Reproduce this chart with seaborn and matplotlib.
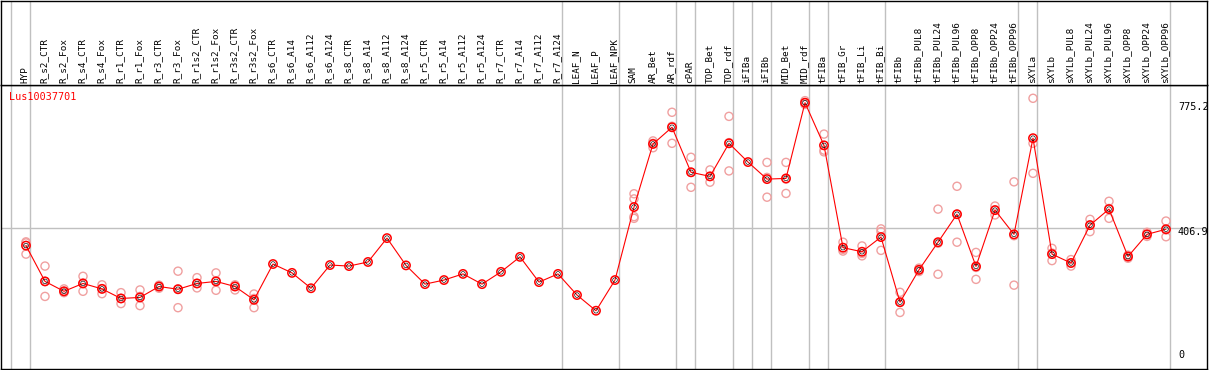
import numpy as np
import pandas as pd
import seaborn as sns
import matplotlib.pyplot as plt

sns.set_theme(style="white")
plt.rcParams['font.family'] = ['DejaVu Sans Mono', 'DejaVu Sans']

gene = "Lus10037701"

samples = ["HYP",
           "R_s2_CTR", "R_s2_Fox", "R_s4_CTR", "R_s4_Fox", "R_r1_CTR", "R_r1_Fox",
           "R_r3_CTR", "R_r3_Fox", "R_r1s2_CTR", "R_r1s2_Fox", "R_r3s2_CTR", "R_r3s2_Fox",
           "R_s6_CTR", "R_s6_A14", "R_s6_A112", "R_s6_A124",
           "R_s8_CTR", "R_s8_A14", "R_s8_A112", "R_s8_A124",
           "R_r5_CTR", "R_r5_A14", "R_r5_A112", "R_r5_A124",
           "R_r7_CTR", "R_r7_A14", "R_r7_A112", "R_r7_A124",
           "LEAF_N", "LEAF_P", "LEAF_NPK",
           "SAM", "AR_Bet", "AR_rdf", "cPAR", "TOP_Bet", "TOP_rdf",
           "iFIBa", "iFIBb", "MID_Bet", "MID_rdf",
           "tFIBa", "tFIB_Gr", "tFIB_Li", "tFIB_Bi",
           "tFIBb", "tFIBb_PUL8", "tFIBb_PUL24", "tFIBb_PUL96",
           "tFIBb_OPP8", "tFIBb_OPP24", "tFIBb_OPP96",
           "sXYLa", "sXYLb", "sXYLb_PUL8", "sXYLb_PUL24", "sXYLb_PUL96",
           "sXYLb_OPP8", "sXYLb_OPP24", "sXYLb_OPP96"]

means = [356,
         251, 222, 245, 229, 201, 204, 236, 228, 245, 251, 236, 197,
         302, 276, 231, 299, 296, 308, 378, 298,
         243, 255, 273, 243, 279, 323, 249, 273,
         211, 165, 255,
         469, 654, 703, 571, 559, 656,
         601, 551, 553, 775,
         650, 350, 338, 381,
         190, 285, 366, 448, 295, 460, 389,
         671, 331, 305, 416, 463, 324, 389, 404]

replicates = [[367, 364, 331],
              [296, 251, 207], [229, 222, 218], [266, 246, 222], [241, 230, 215],
              [218, 201, 186], [226, 207, 180], [240, 236, 231], [281, 229, 174],
              [262, 245, 232], [276, 253, 225], [241, 239, 226], [214, 201, 174],
              [], [], [], [], [], [], [], [], [], [], [], [], [], [], [], [],
              [], [], [],
              [508, 493, 441, 436], [663, 656, 643], [747, 706, 656],
              [615, 571, 527], [578, 559, 542], [735, 658, 575],
              [], [600, 556, 498], [600, 551, 509], [781, 775, 770],
              [683, 636, 631], [366, 345, 340], [355, 333, 326], [405, 397, 342],
              [219, 190, 160], [290, 284, 280], [463, 363, 272], [530, 448, 366],
              [336, 292, 257], [472, 461, 446], [543, 385, 240],
              [788, 656, 568], [348, 334, 312], [315, 305, 296], [433, 417, 397],
              [486, 465, 436], [328, 323, 319], [395, 389, 383], [428, 402, 382]]

# first sample index of each tissue group (last entry closes the chart)
group_starts = [0, 1, 29, 32, 35, 36, 38, 39, 40, 42, 43, 46, 53, 54, 61]
axis_values = [775.2, 406.9, 0]
ref_value = 406.9

pos = np.arange(len(samples))
mean_df = pd.DataFrame({"pos": pos, "value": means})
rep_df = pd.DataFrame([(i, v) for i, r in enumerate(replicates) for v in r],
                      columns=["pos", "value"])

W, H = 1209, 370
fig = plt.figure(figsize=(W / 100, H / 100), dpi=100)
ax = fig.add_axes([1 / W, 1 / H, 1206 / W, 284 / H])
ax_top = fig.add_axes([1 / W, 285 / H, 1206 / W, 84.5 / H])

px = 19.0           # pixels per sample
xmin = -25 / px
xmax = xmin + 1206 / px
yscale = 0.341      # pixels per unit
ylo = -2 / yscale
yhi = ylo + 284 / yscale

for a in (ax, ax_top):
    a.set_xlim(xmin, xmax)
    a.set_xticks([])
    a.set_yticks([])
    for s in a.spines.values():
        s.set_color("black")
        s.set_linewidth(1.0)
    for g in group_starts:
        a.axvline(g - 15 / px, color="#c0c0c0", lw=1, zorder=0)

ax.set_ylim(ylo, yhi)
ax.axhline(ref_value, color="#c0c0c0", lw=1, zorder=0)

sns.scatterplot(data=rep_df, x="pos", y="value", ax=ax, marker="o", s=34,
                facecolors="none", edgecolor="#f0a0a0", linewidth=1.0, zorder=2)
sns.lineplot(data=mean_df, x="pos", y="value", ax=ax, color="red", lw=0.8,
             estimator=None, sort=False, zorder=3)
sns.scatterplot(data=mean_df, x="pos", y="value", ax=ax, marker="o", s=36,
                facecolors="none", edgecolor="red", linewidth=1.1, zorder=4)
sns.scatterplot(data=mean_df, x="pos", y="value", ax=ax, marker="o", s=11,
                facecolors="none", edgecolor="black", linewidth=0.45, zorder=5)
ax.set_xlabel("")
ax.set_ylabel("")

ax.text(xmin + 8 / px, (367 - 97) / yscale, gene, color="red", fontsize=7.3,
        ha="left", va="center")
label_x = xmin + 1177 / px
for v in axis_values:
    y = v - 4 / yscale if v > 0 else v + 12 / yscale
    ax.text(label_x, y, f"{v:g}", fontsize=7.3, ha="left", va="center",
            color="black")

ax_top.set_ylim(85, 0)
for i, name in enumerate(samples):
    ax_top.text(i - 0.05, 83, name, rotation=90, ha="center", va="bottom",
                fontsize=6.7, color="black")

fig.savefig("out.png", dpi=100)
